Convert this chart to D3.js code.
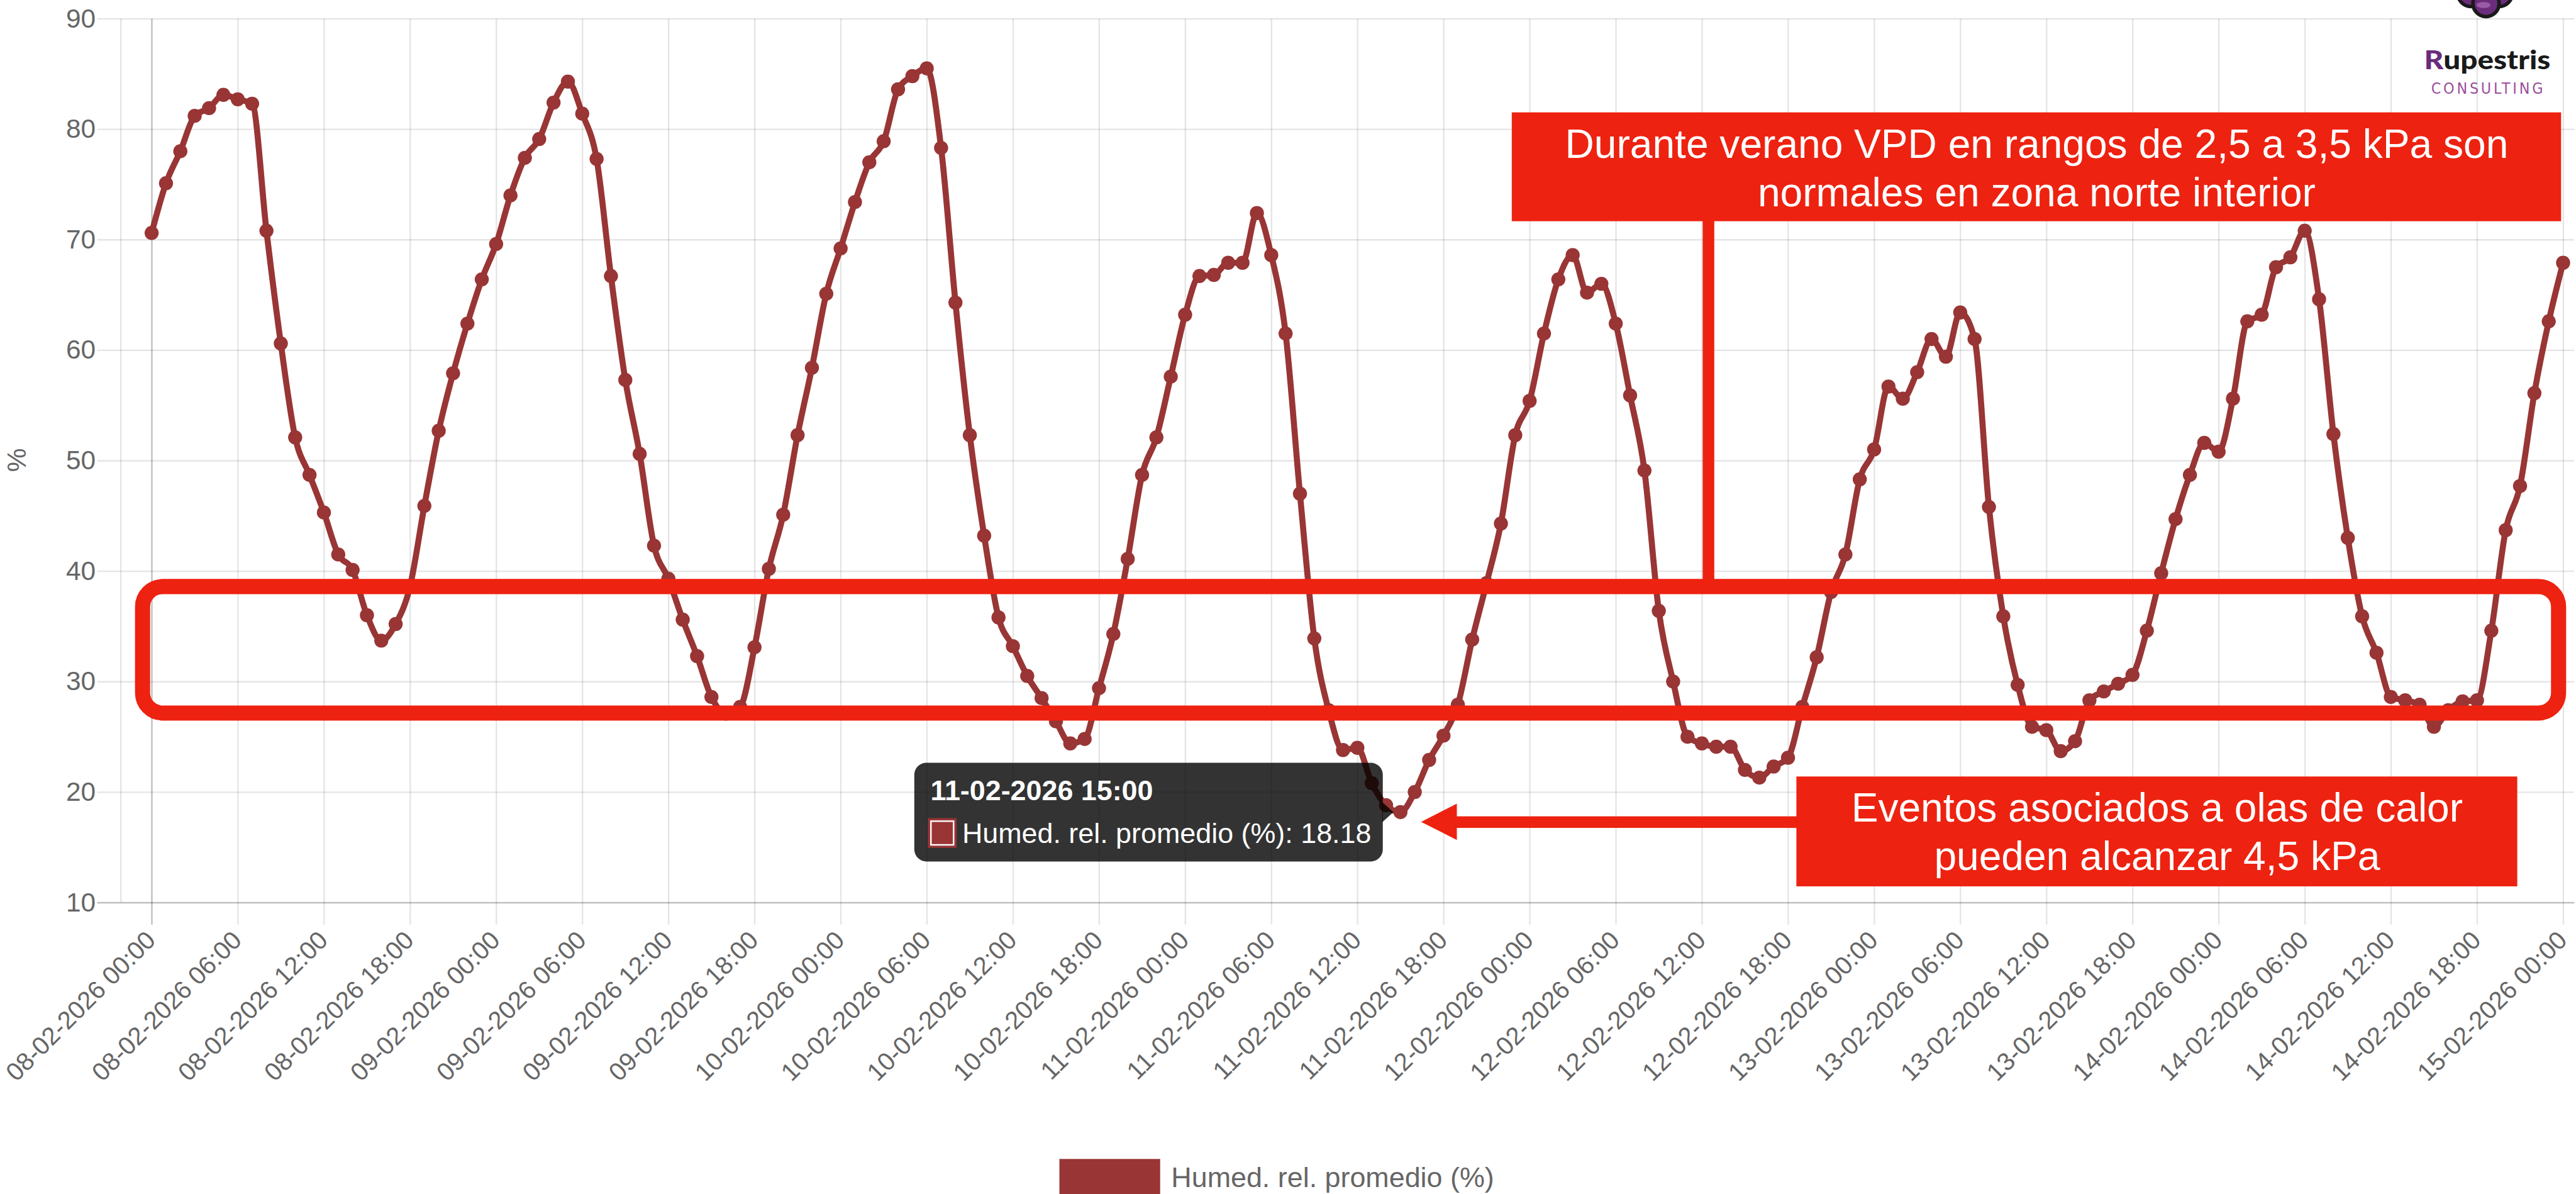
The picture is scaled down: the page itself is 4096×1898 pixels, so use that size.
<!DOCTYPE html>
<html>
<head>
<meta charset="utf-8">
<script src="https://cdn.jsdelivr.net/npm/d3@7"></script>
<style>
  html, body { margin: 0; padding: 0; background: #fff; overflow: hidden; }
  svg { display: block; }
</style>
</head>
<body>
<div id="chart"></div>
<script>
// hourly relative humidity (%), one array per day
const startTime = new Date(2026, 1, 8, 0, 0);
const hum08 = [70.6, 75.1, 78.0, 81.2, 81.9, 83.1, 82.7, 82.3, 70.8, 60.6, 52.1, 48.7, 45.3, 41.5, 40.1, 36.0, 33.7, 35.2, 38.6, 45.9, 52.7, 57.9, 62.4, 66.4];
const hum09 = [69.6, 74.0, 77.4, 79.1, 82.4, 84.3, 81.4, 77.3, 66.7, 57.3, 50.6, 42.3, 39.3, 35.6, 32.3, 28.6, 27.1, 27.7, 33.1, 40.2, 45.1, 52.3, 58.4, 65.1];
const hum10 = [69.2, 73.4, 77.0, 78.9, 83.6, 84.8, 85.5, 78.3, 64.3, 52.3, 43.2, 35.8, 33.2, 30.5, 28.5, 26.4, 24.4, 24.8, 29.4, 34.3, 41.1, 48.7, 52.1, 57.6];
const hum11 = [63.2, 66.7, 66.8, 67.9, 67.9, 72.4, 68.6, 61.5, 47.0, 33.9, 27.4, 23.8, 24.0, 20.8, 18.8, 18.18, 20.0, 22.9, 25.1, 27.9, 33.8, 38.9, 44.3, 52.3];
const hum12 = [55.4, 61.5, 66.4, 68.6, 65.2, 66.0, 62.4, 55.9, 49.1, 36.4, 30.0, 25.0, 24.4, 24.1, 24.1, 22.0, 21.3, 22.3, 23.1, 27.7, 32.2, 38.1, 41.5, 48.3];
const hum13 = [51.0, 56.7, 55.6, 58.0, 61.0, 59.4, 63.4, 61.0, 45.8, 35.9, 29.7, 25.9, 25.6, 23.7, 24.6, 28.3, 29.1, 29.8, 30.6, 34.6, 39.8, 44.7, 48.7, 51.6];
const hum14 = [50.8, 55.6, 62.6, 63.2, 67.5, 68.4, 70.8, 64.6, 52.4, 43.0, 35.9, 32.6, 28.6, 28.3, 27.9, 25.9, 27.4, 28.2, 28.3, 34.6, 43.7, 47.7, 56.1, 62.6];
const hum15 = [67.9];

const yTicks = [10, 20, 30, 40, 50, 60, 70, 80, 90];
const seriesName = "Humed. rel. promedio (%)";
const yTitle = "%";
const noteTop = ["Durante verano VPD en rangos de 2,5 a 3,5 kPa son", "normales en zona norte interior"];
const noteBottom = ["Eventos asociados a olas de calor", "pueden alcanzar 4,5 kPa"];

const lineColor = "#993535";
const red = "#ee2210";
const font = "'Liberation Sans', Arial, Helvetica, sans-serif";

// build hourly rows
const values = [].concat(hum08, hum09, hum10, hum11, hum12, hum13, hum14, hum15);
const rows = values.map((v, i) => ({ t: d3.timeHour.offset(startTime, i), v: v }));

// everything is laid out in reference pixels, then scaled to the window
const k = 0.801;
const svg = d3.select("#chart").append("svg")
    .attr("width", 4096)
    .attr("height", 1898);
const g = svg.append("g").attr("transform", "scale(" + k + ")");

const x = d3.scaleTime()
    .domain([rows[0].t, rows[rows.length - 1].t])
    .range([301, 5088]);
const y = d3.scaleLinear().domain([10, 90]).range([1791, 37]);

// y grid + labels
const gy = g.append("g")
    .attr("transform", "translate(193,0)")
    .call(d3.axisLeft(y).tickValues(yTicks).tickSize(-(5110 - 193)).tickPadding(3));
gy.select(".domain").remove();
gy.attr("font-family", font).attr("font-size", 53);
gy.selectAll(".tick line")
    .attr("stroke", d => d === 10 ? "rgba(0,0,0,0.25)" : "rgba(0,0,0,0.1)")
    .attr("stroke-width", 3);
gy.selectAll(".tick text").attr("fill", "#666");

// y axis border
g.append("line")
    .attr("x1", 240).attr("x2", 240)
    .attr("y1", y(90)).attr("y2", y(10))
    .attr("stroke", "rgba(0,0,0,0.1)").attr("stroke-width", 3);

// x grid + rotated labels
const gx = g.append("g")
    .attr("transform", "translate(0,1835)")
    .call(d3.axisBottom(x)
        .ticks(d3.timeHour.every(6))
        .tickFormat(d3.timeFormat("%d-%m-%Y %H:%M"))
        .tickSize(-(1835 - 37)));
gx.select(".domain").remove();
gx.attr("font-family", font).attr("font-size", 50);
gx.selectAll(".tick line")
    .attr("stroke", (d, i) => i === 0 ? "rgba(0,0,0,0.25)" : "rgba(0,0,0,0.1)")
    .attr("stroke-width", 3);
gx.selectAll(".tick text")
    .attr("x", 0).attr("y", 0).attr("dy", null)
    .attr("transform", "translate(10,34) rotate(-45)")
    .attr("text-anchor", "end")
    .attr("fill", "#666");

// y title
g.append("text")
    .attr("transform", "translate(33,913) rotate(-90)")
    .attr("text-anchor", "middle")
    .attr("dy", "0.35em")
    .attr("font-family", font).attr("font-size", 53)
    .attr("fill", "#666")
    .text(yTitle);

// series
const line = d3.line()
    .x(d => x(d.t))
    .y(d => y(d.v))
    .curve(d3.curveMonotoneX);

g.append("path")
    .datum(rows)
    .attr("d", line)
    .attr("fill", "none")
    .attr("stroke", lineColor)
    .attr("stroke-width", 12);

g.selectAll("circle.pt")
    .data(rows)
    .join("circle")
    .attr("class", "pt")
    .attr("cx", d => x(d.t))
    .attr("cy", d => y(d.v))
    .attr("r", 14)
    .attr("fill", lineColor);

// tooltip on the lowest point
const low = rows[d3.minIndex(rows, d => d.v)];
const px = x(low.t), py = y(low.v);
const tip = g.append("g");
tip.append("rect")
    .attr("x", px - 35 - 930).attr("y", py - 98)
    .attr("width", 930).attr("height", 196)
    .attr("rx", 24)
    .attr("fill", "rgba(0,0,0,0.8)");
tip.append("path")
    .attr("d", `M${px - 36},${py - 20}L${px - 14},${py}L${px - 36},${py + 20}Z`)
    .attr("fill", "rgba(0,0,0,0.8)");
tip.append("text")
    .attr("x", px - 933).attr("y", py - 24)
    .attr("font-family", font).attr("font-size", 56).attr("font-weight", "bold")
    .attr("fill", "#fff")
    .text(d3.timeFormat("%d-%m-%Y %H:%M")(low.t));
tip.append("rect")
    .attr("x", px - 938).attr("y", py + 12)
    .attr("width", 57).attr("height", 59)
    .attr("fill", lineColor);
tip.append("rect")
    .attr("x", px - 932).attr("y", py + 18)
    .attr("width", 45).attr("height", 47)
    .attr("fill", "none").attr("stroke", "#fff").attr("stroke-width", 3);
tip.append("text")
    .attr("x", px - 870).attr("y", py + 61)
    .attr("font-family", font).attr("font-size", 56)
    .attr("fill", "#fff")
    .text(seriesName + ": " + low.v);

// annotations
const notes = g.append("g");
notes.append("rect")
    .attr("x", 283).attr("y", 1164)
    .attr("width", 4796).attr("height", 251)
    .attr("rx", 40)
    .attr("fill", "none").attr("stroke", red).attr("stroke-width", 30);

notes.append("rect")
    .attr("x", 3380).attr("y", 430)
    .attr("width", 23).attr("height", 725)
    .attr("fill", red);
notes.append("rect")
    .attr("x", 3001).attr("y", 223)
    .attr("width", 2083).attr("height", 216)
    .attr("fill", red);
notes.selectAll("text.top")
    .data(noteTop)
    .join("text")
    .attr("class", "top")
    .attr("x", 4043).attr("y", (d, i) => 313 + i * 96)
    .attr("text-anchor", "middle")
    .attr("font-family", font).attr("font-size", 80)
    .attr("fill", "#fff")
    .text(d => d);

notes.append("rect")
    .attr("x", 2880).attr("y", 1620)
    .attr("width", 690).attr("height", 23)
    .attr("fill", red);
notes.append("path")
    .attr("d", "M2821,1631L2892,1595L2892,1667Z")
    .attr("fill", red);
notes.append("rect")
    .attr("x", 3566).attr("y", 1541)
    .attr("width", 1431).attr("height", 218)
    .attr("fill", red);
notes.selectAll("text.bot")
    .data(noteBottom)
    .join("text")
    .attr("class", "bot")
    .attr("x", 4282).attr("y", (d, i) => 1631 + i * 96)
    .attr("text-anchor", "middle")
    .attr("font-family", font).attr("font-size", 80)
    .attr("fill", "#fff")
    .text(d => d);

// logo
const logo = g.append("g");
[[4905, -13], [4961, -13], [4935, 7]].forEach(c => {
    logo.append("circle")
        .attr("cx", c[0]).attr("cy", c[1]).attr("r", 26)
        .attr("fill", "#6b2c7c").attr("stroke", "#1a1a1a").attr("stroke-width", 7);
});
logo.append("ellipse")
    .attr("cx", 4930).attr("cy", 10).attr("rx", 14).attr("ry", 6)
    .attr("fill", "#9a5aa6");
const brand = logo.append("text")
    .attr("x", 4812).attr("y", 137)
    .attr("font-family", "Lato, 'Open Sans', sans-serif").attr("font-size", 52).attr("font-weight", 900)
    .attr("textLength", 251).attr("lengthAdjust", "spacingAndGlyphs")
    .attr("fill", "#1a1a1a");
brand.append("tspan").attr("fill", "#6b2c7c").text("R");
brand.append("tspan").text("upestris");
logo.append("text")
    .attr("x", 4826).attr("y", 186)
    .attr("font-family", "'Liberation Sans Narrow', 'DejaVu Sans Condensed', sans-serif")
    .attr("font-size", 31)
    .attr("textLength", 222).attr("lengthAdjust", "spacing")
    .attr("fill", "#9b4f9b")
    .text("CONSULTING");

// legend
const legend = g.append("g");
legend.append("rect")
    .attr("x", 2103).attr("y", 2300)
    .attr("width", 200).attr("height", 70)
    .attr("fill", lineColor);
legend.append("text")
    .attr("x", 2325).attr("y", 2356)
    .attr("font-family", font).attr("font-size", 56)
    .attr("fill", "#666")
    .text(seriesName);
</script>
</body>
</html>
